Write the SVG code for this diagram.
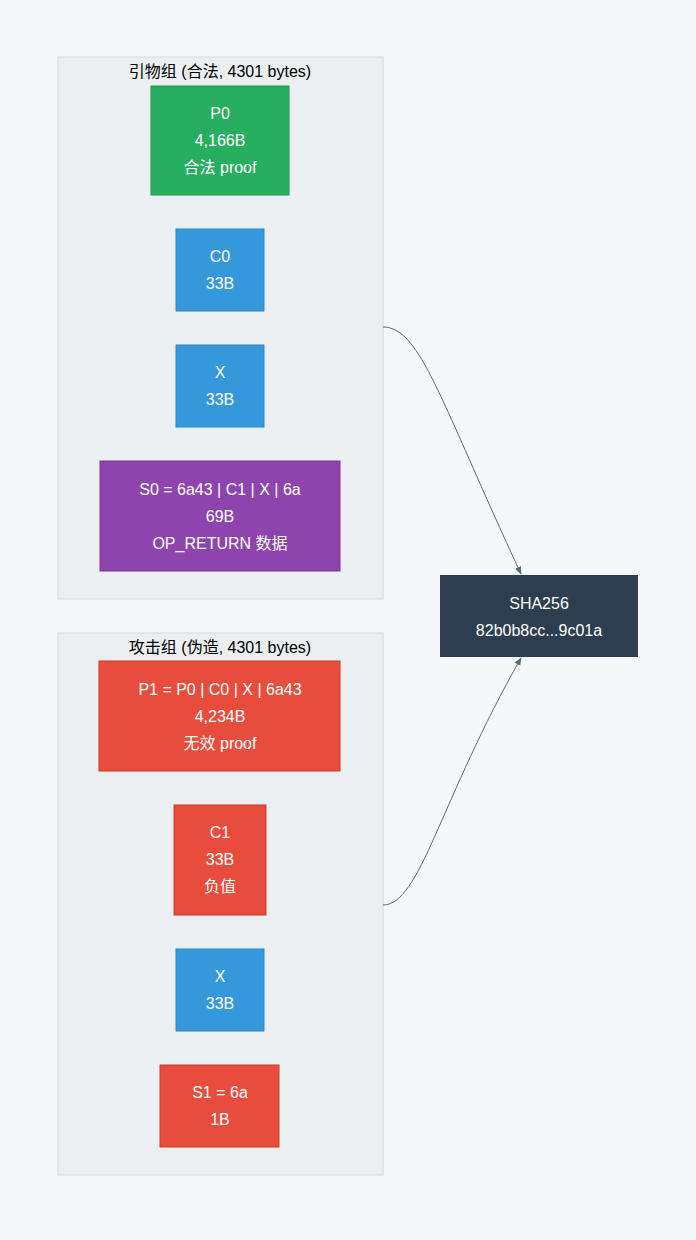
<svg xmlns="http://www.w3.org/2000/svg" width="696" height="1240" viewBox="0 0 696 1240">
<style>
text{font-family:"Liberation Sans","Noto Sans CJK SC",sans-serif;font-size:16px;text-anchor:middle}
.w{fill:#fff}
.cl{fill:#eceff1;stroke:#d5d8da;stroke-width:1}
.e{fill:none;stroke:#5a6b7c;stroke-width:1}
</style>
<defs><marker id="a" viewBox="0 0 10 10" refX="9" refY="5" markerWidth="8" markerHeight="8" orient="auto"><path d="M0,1 L10,5 L0,9 z" fill="#5a6b7c"/></marker></defs>
<rect width="696" height="1240" fill="#f5f7f9"/>
<g id="g1"><rect class="cl" x="58" y="57" width="325" height="542"/><text x="220" y="77">引物组 (合法, 4301 bytes)</text></g>
<g id="g2"><rect class="cl" x="58" y="633" width="325" height="542"/><text x="220" y="653">攻击组 (伪造, 4301 bytes)</text></g>
<g id="P0"><rect x="151" y="86" width="138" height="109" fill="#27ae60" stroke="#1e9651"/><text class="w" x="220" y="119">P0</text><text class="w" x="220" y="146">4,166B</text><text class="w" x="220" y="173">合法 proof</text></g>
<g id="C0"><rect x="176" y="229" width="88" height="82" fill="#3498db" stroke="#2a84c0"/><text class="w" x="220" y="262">C0</text><text class="w" x="220" y="289">33B</text></g>
<g id="X0"><rect x="176" y="345" width="88" height="82" fill="#3498db" stroke="#2a84c0"/><text class="w" x="220" y="378">X</text><text class="w" x="220" y="405">33B</text></g>
<g id="S0"><rect x="100" y="461" width="240" height="110" fill="#8e44ad" stroke="#7a3795"/><text class="w" x="220" y="495">S0 = 6a43 | C1 | X | 6a</text><text class="w" x="220" y="522">69B</text><text class="w" x="220" y="549">OP_RETURN 数据</text></g>
<g id="P1"><rect x="99" y="661" width="241" height="110" fill="#e74c3c" stroke="#c93e2f"/><text class="w" x="220" y="695">P1 = P0 | C0 | X | 6a43</text><text class="w" x="220" y="722">4,234B</text><text class="w" x="220" y="749">无效 proof</text></g>
<g id="C1"><rect x="174" y="805" width="92" height="110" fill="#e74c3c" stroke="#c93e2f"/><text class="w" x="220" y="838">C1</text><text class="w" x="220" y="865">33B</text><text class="w" x="220" y="892">负值</text></g>
<g id="X1"><rect x="176" y="949" width="88" height="82" fill="#3498db" stroke="#2a84c0"/><text class="w" x="220" y="982">X</text><text class="w" x="220" y="1009">33B</text></g>
<g id="S1"><rect x="160" y="1065" width="119" height="82" fill="#e74c3c" stroke="#c93e2f"/><text class="w" x="220" y="1098">S1 = 6a</text><text class="w" x="220" y="1125">1B</text></g>
<g id="SHA"><rect x="440" y="575" width="198" height="82" fill="#2c3e50"/><text class="w" x="539" y="609">SHA256</text><text class="w" x="539" y="636">82b0b8cc...9c01a</text></g>
<g id="edges">
<path class="e" d="M383,327 C420,327 440,400 521,574" marker-end="url(#a)"/>
<path class="e" d="M383,905 C420,905 440,800 521,658" marker-end="url(#a)"/>
</g>
</svg>
